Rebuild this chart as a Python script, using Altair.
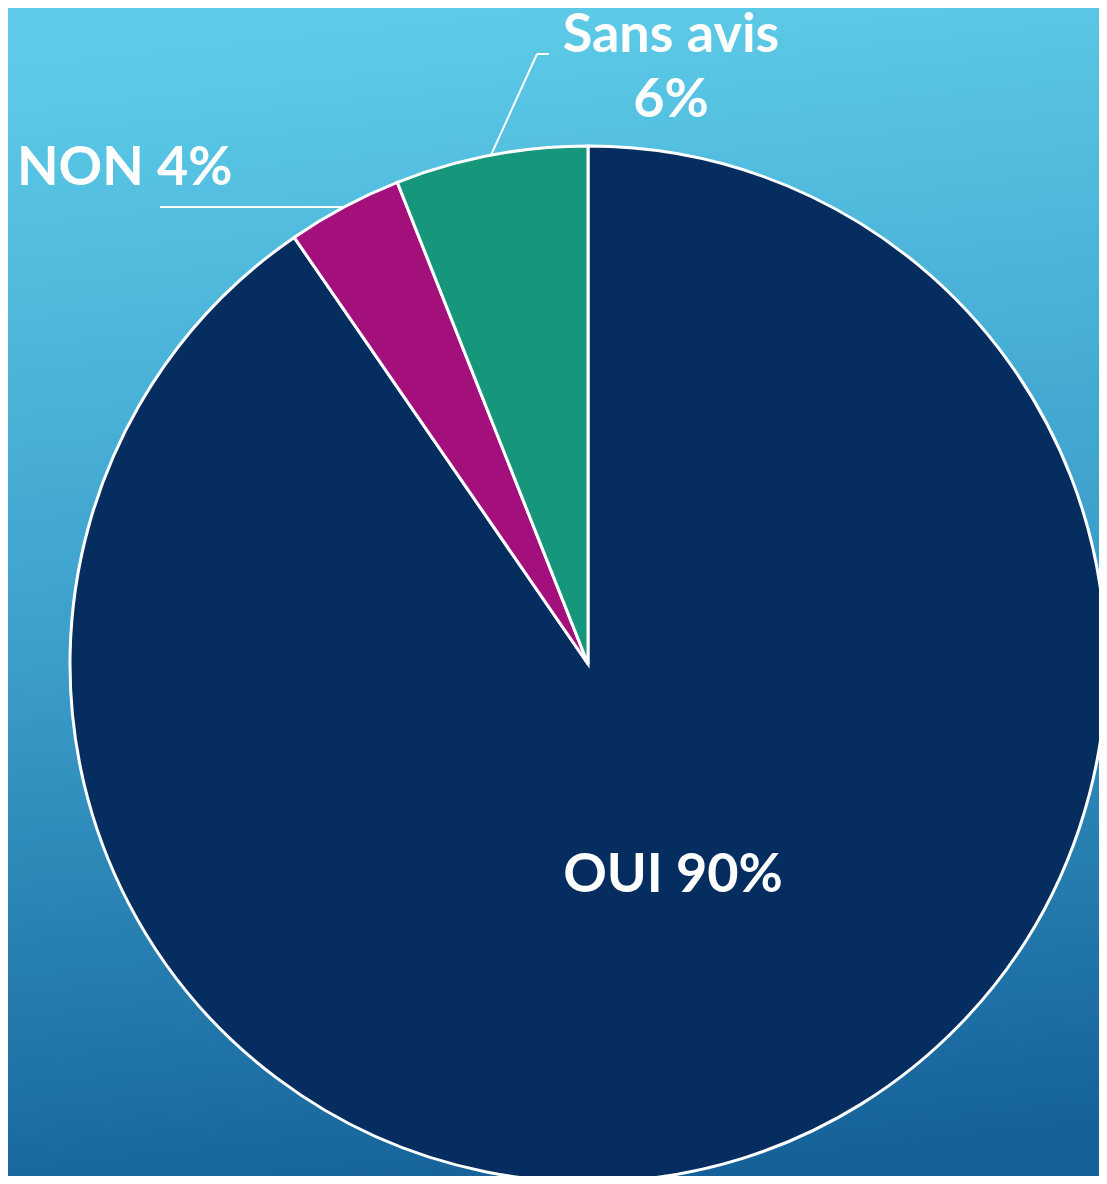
import math
import altair as alt
import pandas as pd

# ---- data ----
categories = ["OUI", "NON", "Sans avis"]
values = [90.4, 3.6, 6.0]
label_texts = ["OUI 90%", "NON 4%", "Sans avis\n6%"]
colors = ["#062D5F", "#A3107B", "#16967A"]

# ---- layout ----
W, H = 1091, 1168
CX, CY, R = 580, 656, 518
FONT = "Lato"
FS = 54

pie_df = pd.DataFrame({"cat": categories, "val": values, "order": [0, 1, 2]})

# mid angles of slices (clockwise from 12 o'clock)
total = sum(values)
mids = []
acc = 0
for v in values:
    mids.append((acc + v / 2) / total * 2 * math.pi)
    acc += v

def edge(a):
    return CX + R * math.sin(a), CY - R * math.cos(a)

# leader lines
sx, sy = edge(mids[2])
nx, ny = edge(mids[1])
lines_df = pd.DataFrame({
    "x": [sx, 529, nx],
    "y": [sy, 46, ny],
    "x2": [529, 541, 152],
    "y2": [46, 46, ny],
})

labels_df = pd.DataFrame({
    "text": [label_texts[0], label_texts[1], "Sans avis", "6%"],
    "x": [673 - 8, 17 - 8, 671 - 8, 671 - 8],
    "y": [892 - 8, 185 - 8, 52 - 8, 117 - 8],
    "align": ["center", "left", "center", "center"],
})

bg = alt.Chart(pd.DataFrame({"a": [0]})).mark_rect(
    fill=alt.Gradient(
        gradient="linear",
        stops=[
            alt.GradientStop(color="#5DCBE8", offset=0),
            alt.GradientStop(color="#3C9FCB", offset=0.5),
            alt.GradientStop(color="#15629A", offset=1),
        ],
        x1=0.45, x2=0.55, y1=0, y2=1,
    )
).encode(x=alt.value(0), x2=alt.value(W), y=alt.value(0), y2=alt.value(H))

pie = alt.Chart(pie_df).mark_arc(radius=R, stroke="white", strokeWidth=3).encode(
    theta=alt.Theta("val:Q", stack=True),
    order=alt.Order("order:Q"),
    color=alt.Color("cat:N", scale=alt.Scale(domain=categories, range=colors), legend=None),
    x=alt.value(CX),
    y=alt.value(CY),
)

leaders = alt.Chart(lines_df).mark_rule(color="white", strokeWidth=2).encode(
    x=alt.X("x:Q", scale=None),
    y=alt.Y("y:Q", scale=None),
    x2="x2:Q",
    y2="y2:Q",
)

def text_layer(align):
    d = labels_df[labels_df["align"] == align]
    return alt.Chart(d).mark_text(
        font=FONT, fontSize=FS, fontWeight="bold", color="white",
        align=align, baseline="alphabetic",
    ).encode(
        x=alt.X("x:Q", scale=None),
        y=alt.Y("y:Q", scale=None),
        text="text:N",
    )

chart = alt.layer(bg, pie, leaders, text_layer("center"), text_layer("left")).properties(
    width=W, height=H, padding=0,
    autosize=alt.AutoSizeParams(type="fit", contains="padding"),
).configure_view(stroke=None)

chart.save("out.html", embed_options={"renderer": "svg", "actions": False})
